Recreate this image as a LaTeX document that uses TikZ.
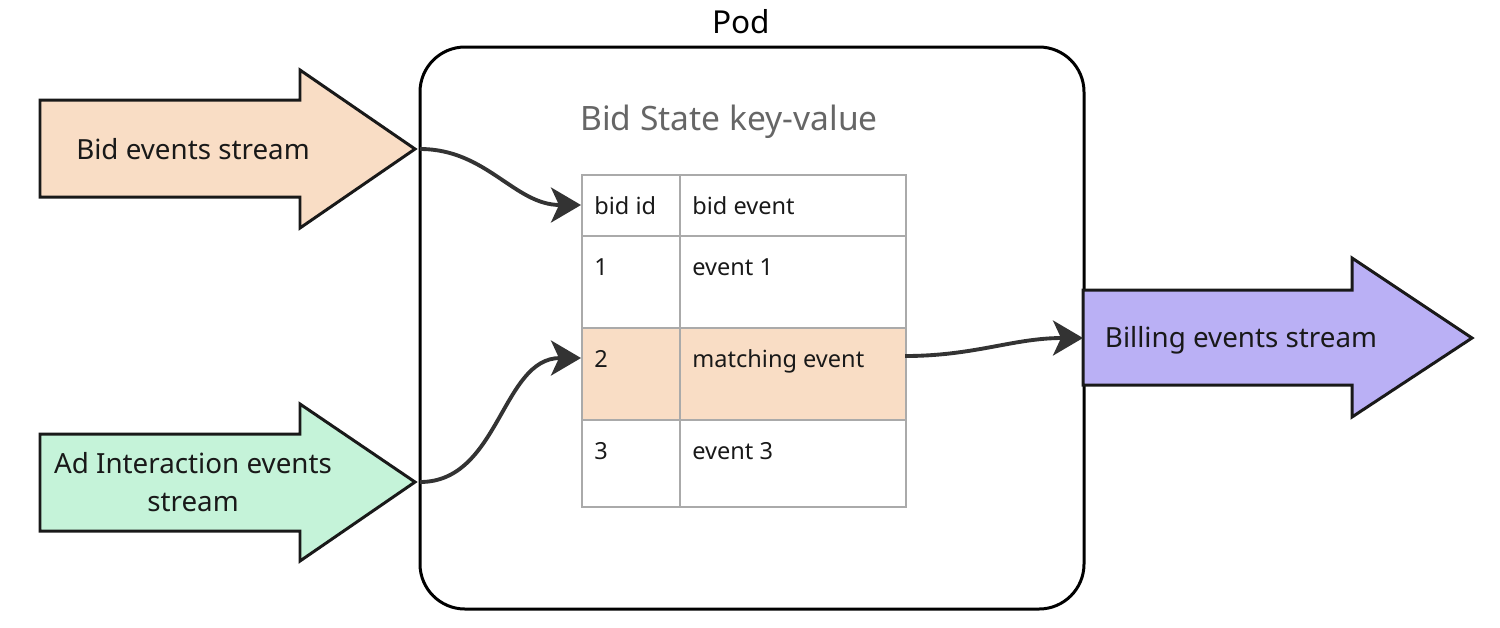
\documentclass[tikz,border=0pt]{standalone}
\usepackage{fontspec}
\setmainfont{Noto Sans}
\usetikzlibrary{arrows.meta}
\definecolor{peach}{HTML}{F9DDC5}
\definecolor{mint}{HTML}{C5F3D9}
\definecolor{lav}{HTML}{BAB0F5}
\definecolor{grid}{HTML}{AAAAAA}
\definecolor{conn}{HTML}{333333}
\definecolor{title}{HTML}{666666}
\tikzset{
  bigarrow/.style={draw=black!90, line width=1.7pt, line join=miter},
  lbl/.style={font=\fontsize{15.8}{21.5}\selectfont, text=black!90, align=center, anchor=base},
  cell/.style={draw=grid, line width=1pt, anchor=north west, inner sep=0pt},
  celltxt/.style={font=\fontsize{13.4}{16}\selectfont, text=black!90, anchor=base west, inner sep=0pt},
  conn/.style={draw=conn, line width=2.2pt, -{Stealth[length=6mm,width=7mm,inset=1.6mm]}},
}
\begin{document}
\begin{tikzpicture}[x=0.02cm,y=-0.02cm]
\useasboundingbox (0,0) rectangle (1500,627);
% Pod
\draw[line width=1.7pt, rounded corners=0.9cm] (420,47) rectangle (1084,609);
\node[font=\fontsize{18}{22}\selectfont, anchor=base] (podlbl) at (741,33) {Pod};
\node[font=\fontsize{19.1}{22}\selectfont, text=title, anchor=base] (kvlbl) at (729,130) {Bid State key-value};
% Table
\node[cell, fill=peach, minimum width=324*0.02cm, minimum height=92*0.02cm] (r2bg) at (581,327) {};
\node[cell, minimum width=98*0.02cm, minimum height=61*0.02cm] (h1) at (581,174) {};
\node[cell, minimum width=226*0.02cm, minimum height=61*0.02cm] (h2) at (679,174) {};
\node[cell, minimum width=98*0.02cm, minimum height=92*0.02cm] (a1) at (581,235) {};
\node[cell, minimum width=226*0.02cm, minimum height=92*0.02cm] (a2) at (679,235) {};
\node[cell, minimum width=98*0.02cm, minimum height=92*0.02cm] (b1) at (581,327) {};
\node[cell, minimum width=226*0.02cm, minimum height=92*0.02cm] (b2) at (679,327) {};
\node[cell, minimum width=98*0.02cm, minimum height=87*0.02cm] (c1) at (581,419) {};
\node[cell, minimum width=226*0.02cm, minimum height=87*0.02cm] (c2) at (679,419) {};
\node[celltxt] (t11) at (594,214) {bid id};
\node[celltxt] (t12) at (692,214) {bid event};
\node[celltxt] (t21) at (594,275) {1};
\node[celltxt] (t22) at (692,275) {event 1};
\node[celltxt] (t31) at (594,367) {2};
\node[celltxt] (t32) at (692,367) {matching event};
\node[celltxt] (t41) at (594,459) {3};
\node[celltxt] (t42) at (692,459) {event 3};
% Arrows
\draw[bigarrow, fill=peach] (40,100) -- (300,100) -- (300,70) -- (415,149) -- (300,228) -- (300,197) -- (40,197) -- cycle;
\node[lbl] (bidlbl) at (193,159) {Bid events stream};
\draw[bigarrow, fill=mint] (40,434) -- (300,434) -- (300,404) -- (415,482) -- (300,561) -- (300,531) -- (40,531) -- cycle;
\node[lbl, anchor=center] (adlbl) at (193,482) {Ad Interaction events\\stream};
\draw[bigarrow, fill=lav] (1083,290) -- (1352,290) -- (1352,258) -- (1472,338) -- (1352,417) -- (1352,385) -- (1083,385) -- cycle;
\node[lbl] (billlbl) at (1241,347) {Billing events stream};
% connector endpoints
\coordinate (bidout) at (420,149);
\coordinate (adout) at (420,482);
\coordinate (matchout) at (905,356);
\coordinate (billin) at (1083,338);
\coordinate (hin) at (581,205);
\coordinate (min) at (581,358);
\draw[conn] (bidout) to[out=0,in=180] (hin);
\draw[conn] (adout) to[out=0,in=180] (min);
\draw[conn] (matchout) to[out=0,in=180] (billin);
\end{tikzpicture}
\end{document}
